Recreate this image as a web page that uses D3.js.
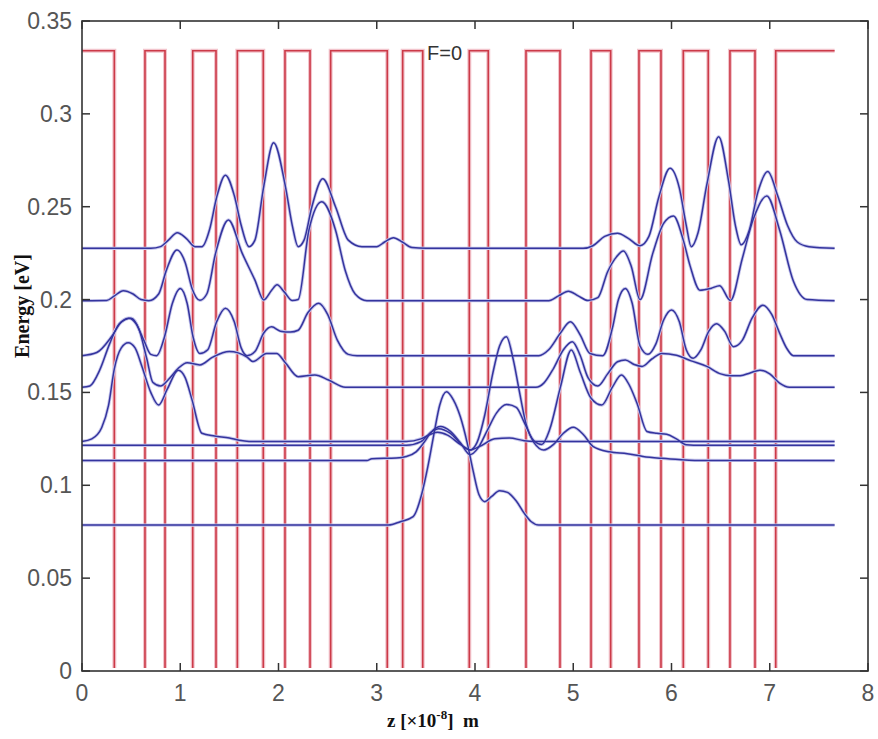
<!DOCTYPE html>
<html>
<head>
<meta charset="utf-8">
<script src="https://cdnjs.cloudflare.com/ajax/libs/d3/7.8.5/d3.min.js"></script>
<style>
  body { margin: 0; background: #fff; }
  svg { display: block; }
</style>
</head>
<body>
<div id="chart"></div>
<script>
// potential profile: barrier height and the wells (z in 1e-8 m)
var V0 = 0.334;
var zEnd = 7.66;
var wells = [[0.329,0.641],[0.845,1.127],[1.364,1.581],[1.845,2.066],[2.321,2.531],
  [3.107,3.264],[3.468,3.942],[4.135,4.519],[4.865,5.181],[5.381,5.669],
  [5.893,6.120],[6.374,6.595],[6.850,7.061]];

var xTicks = [0,1,2,3,4,5,6,7,8];
var yTicks = [0,0.05,0.1,0.15,0.2,0.25,0.3,0.35];

// wavefunctions drawn on their energy levels, [z, E]
var levelA = [[0,.2276],[0.7,.2276],[0.8,.2285],[0.88,.232],[0.97,.236],[1.06,.233],[1.15,.2285],
  [1.22,.2285],[1.3,.238],[1.37,.255],[1.46,.267],[1.55,.256],[1.62,.24],[1.7,.2285],
  [1.76,.232],[1.85,.261],[1.95,.2845],[2.07,.261],[2.14,.24],[2.2,.2285],
  [2.26,.232],[2.34,.25],[2.45,.265],[2.58,.25],[2.71,.232],[2.85,.2285],[3.0,.2285],
  [3.08,.231],[3.17,.2333],[3.26,.231],[3.36,.228],[3.5,.2276],[5.1,.2276],[5.2,.229],
  [5.32,.234],[5.45,.2357],[5.56,.233],[5.68,.229],[5.77,.234],[5.87,.255],[5.985,.2707],
  [6.08,.26],[6.15,.24],[6.2,.2285],[6.27,.236],[6.36,.262],[6.48,.2877],[6.58,.264],
  [6.65,.24],[6.71,.2295],[6.79,.237],[6.88,.258],[6.98,.2689],[7.08,.256],[7.18,.24],
  [7.28,.231],[7.4,.2285],[7.66,.2276]];

var levelB = [[0,.1994],[0.25,.1995],[0.33,.202],[0.42,.2048],[0.52,.203],[0.6,.2],[0.68,.1994],
  [0.78,.203],[0.86,.216],[0.967,.2267],[1.05,.22],[1.12,.206],[1.2,.1996],[1.27,.203],
  [1.36,.225],[1.49,.2429],[1.63,.225],[1.76,.2105],[1.85,.1998],[1.93,.205],[1.985,.208],
  [2.06,.204],[2.14,.1995],[2.2,.2],[2.31,.2375],[2.44,.2527],[2.58,.2375],[2.68,.2155],
  [2.78,.203],[2.9,.1994],[4.75,.1994],[4.85,.202],[4.95,.2045],[5.05,.202],[5.15,.1995],
  [5.25,.201],[5.35,.215],[5.44,.223],[5.51,.2262],[5.59,.218],[5.68,.2],[5.81,.225],
  [5.92,.241],[6.02,.245],[6.12,.232],[6.19,.218],[6.29,.205],[6.4,.206],[6.49,.2075],
  [6.6,.1995],[6.72,.222],[6.83,.243],[6.97,.2558],[7.1,.2375],[7.24,.21],[7.38,.2],[7.66,.1994]];

var levelC = [[0,.1698],[0.15,.1715],[0.3,.18],[0.4,.188],[0.475,.19],[0.55,.187],[0.63,.178],
  [0.7,.1705],[0.76,.1698],[0.84,.18],[0.92,.198],[1.0,.206],[1.07,.198],[1.13,.18],[1.2,.171],
  [1.28,.173],[1.37,.188],[1.46,.1953],[1.55,.188],[1.62,.174],[1.68,.1698],[1.76,.172],
  [1.85,.182],[1.93,.1853],[2.02,.183],[2.12,.1825],[2.2,.1835],[2.3,.193],[2.41,.198],
  [2.5,.192],[2.6,.178],[2.71,.1705],[2.8,.1698],[4.65,.1698],[4.75,.173],[4.87,.182],
  [4.97,.188],[5.07,.181],[5.17,.171],[5.3,.1698],[5.4,.185],[5.46,.2],[5.53,.206],
  [5.6,.198],[5.68,.175],[5.76,.1705],[5.84,.176],[5.92,.189],[6.0,.1944],[6.08,.188],
  [6.15,.173],[6.22,.1684],[6.3,.173],[6.38,.183],[6.46,.187],[6.54,.183],[6.63,.1746],
  [6.72,.178],[6.82,.19],[6.93,.197],[7.02,.192],[7.1,.182],[7.17,.174],[7.24,.1698],[7.66,.1698]];

var levelD = [[0,.1528],[0.08,.1535],[0.18,.162],[0.28,.176],[0.38,.187],[0.5,.19],[0.58,.184],
  [0.66,.168],[0.72,.1555],[0.8,.1535],[0.88,.157],[0.98,.163],[1.07,.166],[1.2,.1648],
  [1.33,.169],[1.5,.172],[1.68,.169],[1.74,.1666],[1.88,.171],[1.98,.171],[2.07,.166],
  [2.2,.1585],[2.37,.1594],[2.51,.1567],[2.68,.1528],[4.62,.1528],[4.7,.155],[4.8,.163],
  [4.9,.173],[4.99,.1773],[5.07,.17],[5.15,.158],[5.25,.1535],[5.35,.16],[5.45,.1665],
  [5.53,.1675],[5.62,.165],[5.7,.164],[5.8,.168],[5.9,.171],[6.05,.17],[6.2,.167],
  [6.36,.164],[6.5,.16],[6.6,.159],[6.7,.159],[6.8,.1605],[6.9,.162],[7.0,.16],[7.1,.155],
  [7.2,.1528],[7.66,.1528]];

var levelE1 = [[0,.1236],[0.1,.125],[0.2,.131],[0.27,.143],[0.33,.163],[0.4,.174],[0.47,.1768],
  [0.54,.174],[0.61,.164],[0.7,.15],[0.78,.1432],[0.87,.152],[0.98,.162],[1.05,.158],
  [1.12,.146],[1.22,.128],[1.35,.1265],[1.5,.1255],[1.6,.1242],[1.7,.1236],[3.3,.1236],
  [3.45,.125],[3.55,.1275],[3.62,.1285],[3.72,.127],[3.85,.122],[3.95,.119],[4.05,.121],
  [4.2,.125],[4.35,.1255],[4.5,.124],[4.6,.1236],[7.66,.1236]];

var levelE2 = [[0,.1215],[3.3,.1215],[3.45,.1235],[3.55,.1285],[3.63,.1305],[3.75,.128],
  [3.88,.121],[3.95,.119],[4.02,.123],[4.1,.138],[4.18,.16],[4.25,.175],[4.32,.18],
  [4.39,.1675],[4.45,.151],[4.52,.133],[4.6,.124],[4.68,.122],[4.76,.13],[4.87,.153],
  [4.98,.1729],[5.07,.161],[5.18,.147],[5.29,.1432],[5.4,.153],[5.49,.1594],[5.57,.154],
  [5.65,.144],[5.75,.129],[5.85,.128],[5.95,.1275],[6.05,.125],[6.15,.1218],[6.3,.1215],[7.66,.1215]];

var levelF = [[0,.1133],[2.9,.1133],[2.95,.1143],[3.2,.1147],[3.3,.1155],[3.4,.118],[3.48,.123],
  [3.56,.129],[3.65,.1316],[3.75,.129],[3.85,.123],[3.95,.1165],[4.03,.12],[4.12,.129],
  [4.22,.139],[4.32,.1435],[4.42,.142],[4.5,.134],[4.6,.123],[4.7,.119],[4.8,.122],
  [4.9,.128],[5.0,.1312],[5.1,.1275],[5.2,.121],[5.37,.118],[5.55,.117],[5.71,.1155],
  [5.9,.1145],[6.1,.1138],[6.26,.1134],[7.66,.1133]];

var levelG = [[0,.0786],[3.12,.0786],[3.24,.0804],[3.37,.0831],[3.46,.0957],[3.52,.11],
  [3.58,.127],[3.64,.143],[3.71,.1504],[3.78,.146],[3.85,.137],[3.92,.123],[3.98,.108],
  [4.04,.095],[4.1,.0912],[4.17,.094],[4.25,.0971],[4.33,.0962],[4.42,.0915],[4.5,.085],
  [4.57,.0805],[4.65,.0786],[7.66,.0786]];

var levels = [levelA, levelB, levelC, levelD, levelE1, levelE2, levelF, levelG];

var W = 878, H = 739;
var svg = d3.select("#chart").append("svg")
  .attr("width", W)
  .attr("height", H);

var x = d3.scaleLinear().domain([0, 8]).range([82, 868]);
var y = d3.scaleLinear().domain([0, 0.35]).range([671, 21]);

// keep the bottom of the wells under the axis line
svg.append("clipPath")
  .attr("id", "plotClip")
  .append("rect")
  .attr("x", 82).attr("y", 21)
  .attr("width", 786).attr("height", 647);

// step profile of the potential
var profile = [[0, V0]];
wells.forEach(function(w){
  profile.push([w[0], V0], [w[0], 0], [w[1], 0], [w[1], V0]);
});
profile.push([zEnd, V0]);

var stepLine = d3.line()
  .x(function(d){ return x(d[0]); })
  .y(function(d){ return y(d[1]); });

var pot = svg.append("g").attr("clip-path", "url(#plotClip)");

pot.append("path")
  .datum(profile)
  .attr("d", stepLine)
  .attr("fill", "none")
  .attr("stroke", "#f2c4cc")
  .attr("stroke-width", 4);

pot.append("path")
  .datum(profile)
  .attr("d", stepLine)
  .attr("fill", "none")
  .attr("stroke", "#cc3a48")
  .attr("stroke-width", 1.6);

// wavefunctions
var waveLine = d3.line()
  .curve(d3.curveMonotoneX)
  .x(function(d){ return x(d[0]); })
  .y(function(d){ return y(d[1]); });

svg.selectAll(".halo")
  .data(levels)
  .enter()
  .append("path")
  .attr("class", "halo")
  .attr("d", waveLine)
  .attr("fill", "none")
  .attr("stroke", "#c8c8ec")
  .attr("stroke-width", 3.2);

svg.selectAll(".wave")
  .data(levels)
  .enter()
  .append("path")
  .attr("class", "wave")
  .attr("d", waveLine)
  .attr("fill", "none")
  .attr("stroke", "#34349e")
  .attr("stroke-width", 1.5);

// frame with inward ticks on all sides
svg.append("rect")
  .attr("x", 82).attr("y", 21)
  .attr("width", 786).attr("height", 650)
  .attr("fill", "none")
  .attr("stroke", "#333")
  .attr("stroke-width", 1.6);

var tickLen = 8;
xTicks.forEach(function(t){
  svg.append("line")
    .attr("x1", x(t)).attr("x2", x(t))
    .attr("y1", 671).attr("y2", 671 - tickLen)
    .attr("stroke", "#333").attr("stroke-width", 1.5);
  svg.append("line")
    .attr("x1", x(t)).attr("x2", x(t))
    .attr("y1", 21).attr("y2", 21 + tickLen)
    .attr("stroke", "#333").attr("stroke-width", 1.5);
  svg.append("text")
    .attr("x", x(t)).attr("y", 701)
    .attr("text-anchor", "middle")
    .style("font-family", "Liberation Sans, Arial, sans-serif")
    .style("font-size", "23px")
    .attr("fill", "#555")
    .text(d3.format("d")(t));
});

yTicks.forEach(function(t){
  svg.append("line")
    .attr("x1", 82).attr("x2", 82 + tickLen)
    .attr("y1", y(t)).attr("y2", y(t))
    .attr("stroke", "#333").attr("stroke-width", 1.5);
  svg.append("line")
    .attr("x1", 868).attr("x2", 868 - tickLen)
    .attr("y1", y(t)).attr("y2", y(t))
    .attr("stroke", "#333").attr("stroke-width", 1.5);
  svg.append("text")
    .attr("x", 72).attr("y", y(t) + 8)
    .attr("text-anchor", "end")
    .style("font-family", "Liberation Sans, Arial, sans-serif")
    .style("font-size", "23px")
    .attr("fill", "#555")
    .text(t === 0 ? "0" : String(t));
});

// labels
svg.append("text")
  .attr("x", 427).attr("y", 60)
  .style("font-family", "Liberation Sans, Arial, sans-serif")
  .style("font-size", "20px")
  .attr("fill", "#333")
  .text("F=0");

svg.append("text")
  .attr("transform", "translate(29,306) rotate(-90)")
  .attr("text-anchor", "middle")
  .style("font-family", "Liberation Serif, Times New Roman, serif")
  .style("font-weight", "bold")
  .style("font-size", "20px")
  .attr("fill", "#111")
  .text("Energy [eV]");

var xl = svg.append("text")
  .attr("x", 387).attr("y", 727)
  .style("font-family", "Liberation Serif, Times New Roman, serif")
  .style("font-weight", "bold")
  .style("font-size", "19px")
  .attr("fill", "#111")
  .attr("xml:space", "preserve");
xl.append("tspan").text("z [\u00d710");
xl.append("tspan").attr("dy", -8).style("font-size", "13px").text("-8");
xl.append("tspan").attr("dy", 8).text("]  m");
</script>
</body>
</html>
